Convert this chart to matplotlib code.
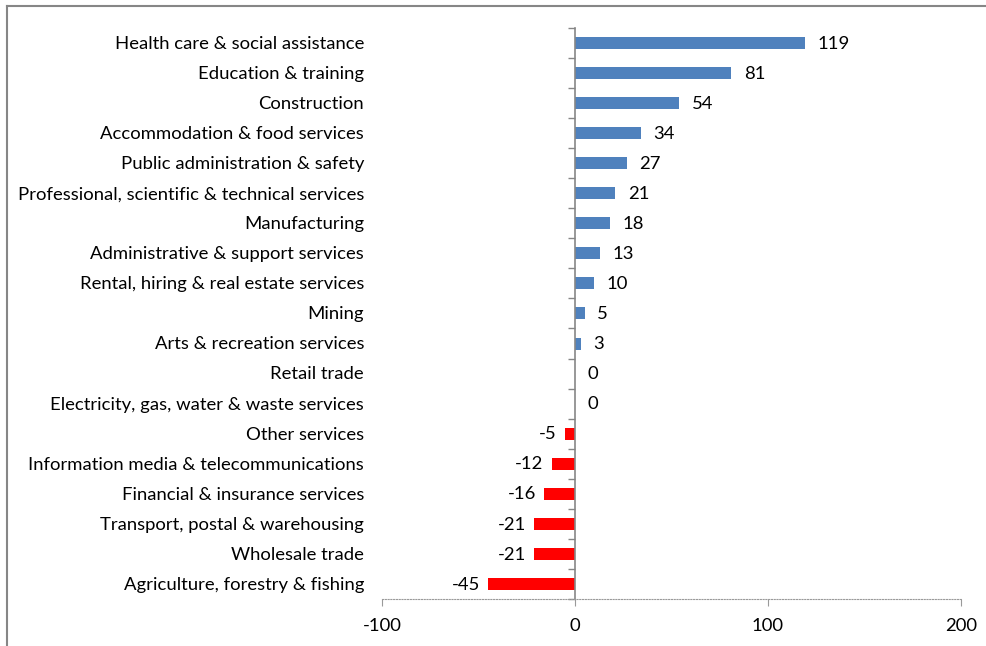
import numpy as np
import matplotlib.pyplot as plt
from matplotlib.transforms import blended_transform_factory

plt.rcParams['font.family'] = ['Lato', 'DejaVu Sans']

# employment change by industry, top to bottom
industries = [
    "Health care & social assistance",
    "Education & training",
    "Construction",
    "Accommodation & food services",
    "Public administration & safety",
    "Professional, scientific & technical services",
    "Manufacturing",
    "Administrative & support services",
    "Rental, hiring & real estate services",
    "Mining",
    "Arts & recreation services",
    "Retail trade",
    "Electricity, gas, water & waste services",
    "Other services",
    "Information media & telecommunications",
    "Financial & insurance services",
    "Transport, postal & warehousing",
    "Wholesale trade",
    "Agriculture, forestry & fishing",
]
change = [119, 81, 54, 34, 27, 21, 18, 13, 10, 5, 3, 0, 0, -5, -12, -16, -21, -21, -45]
x_ticks = [-100, 0, 100, 200]

blue = "#4F81BD"
red = "#FF0000"
axis_grey = "#868686"
fs = 13.3

fig = plt.figure(figsize=(9.86, 6.46), dpi=100)
ax = fig.add_axes([0.3874, 0.0728, 0.5872, 0.8839])

n = len(industries)
ypos = np.arange(n)
vals = np.array(change)
colors = [blue if v >= 0 else red for v in vals]
ax.barh(ypos, vals, height=0.4, color=colors, zorder=2)

ax.set_xlim(-100, 200)
ax.set_ylim(n - 0.5, -0.5)

# value labels beside each bar
for y, v in zip(ypos, vals):
    if v >= 0:
        ax.annotate(str(v), (v, y), xytext=(9, -0.5), textcoords="offset points",
                    ha="left", va="center", fontsize=fs)
    else:
        ax.annotate(str(v), (v, y), xytext=(-6, -0.5), textcoords="offset points",
                    ha="right", va="center", fontsize=fs)

# category names at the left edge of the plot area
trans = blended_transform_factory(ax.transAxes, ax.transData)
for y, name in zip(ypos, industries):
    ax.text(-0.031, y + 0.03, name, transform=trans, ha="right", va="center", fontsize=fs)

# vertical axis line at zero with ticks between categories
for side in ["top", "right"]:
    ax.spines[side].set_visible(False)
ax.spines["left"].set_position(("data", 0))
ax.spines["left"].set_color(axis_grey)
ax.spines["left"].set_linewidth(1.2)
ax.set_yticks(np.arange(-0.5, n, 1))
ax.set_yticklabels([])
ax.tick_params(axis="y", length=5, width=1, color=axis_grey, direction="out")

# dotted horizontal axis
ax.spines["bottom"].set_color("#9a9a9a")
ax.spines["bottom"].set_linestyle((0, (1, 1.5)))
ax.spines["bottom"].set_linewidth(0.8)
ax.set_xticks(x_ticks)
ax.set_xticklabels([str(t) for t in x_ticks], fontsize=fs)
ax.tick_params(axis="x", length=5, width=0.8, color="#9a9a9a", pad=9)

# chart frame (top and left edges)
fig.add_artist(plt.Line2D([0.0066, 0.0066], [0, 0.991], transform=fig.transFigure,
                          color=axis_grey, lw=1.5))
fig.add_artist(plt.Line2D([0.0066, 1.0], [0.991, 0.991], transform=fig.transFigure,
                          color=axis_grey, lw=1.5))

fig.savefig("out.png", dpi=100)
